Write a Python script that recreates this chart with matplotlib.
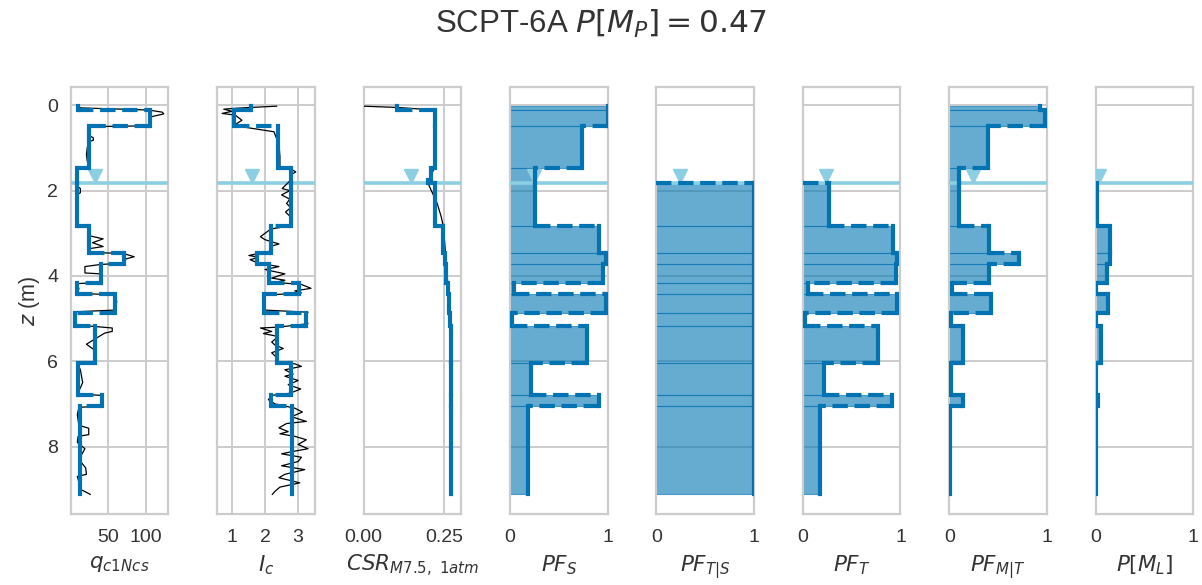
import numpy as np
import matplotlib
matplotlib.use('Agg')
import matplotlib.pyplot as plt

nan = np.nan

# layer boundaries (m) shared by every panel except CSR
Z_EDGES = [0.02, 0.12, 0.48, 1.48, 1.82, 2.83, 3.47, 3.72, 4.17, 4.42, 4.86, 5.17, 6.03, 6.78, 7.06, 9.12]
CSR_EDGES = [0.02, 0.12, 0.48, 1.48, 1.76, 1.82, 2.83, 3.47, 3.72, 4.17, 4.42, 4.86, 5.17, 6.03, 6.78, 7.06, 9.12]
WATER_Z = 1.82

# layer representative values
QC1NCS = [11, 106, 25, 10, 10, 26, 71, 41, 10, 60, 7, 33, 11, 43, 13]
IC = [1.56, 1.07, 2.40, 2.77, 2.77, 2.17, 1.77, 2.12, 3.03, 1.98, 3.24, 2.37, 2.78, 2.17, 2.83]
CSR = [0.105, 0.222, 0.222, 0.209, 0.201, 0.222, 0.247, 0.252, 0.256, 0.260, 0.264, 0.267, 0.270, 0.272, 0.272, 0.271]
PF_S = [1.0, 1.0, 0.74, 0.26, 0.26, 0.91, 0.985, 0.95, 0.045, 0.98, 0.02, 0.79, 0.22, 0.91, 0.18]
PF_TS = [nan, nan, nan, nan, 1, 1, 1, 1, 1, 1, 1, 1, 1, 1, 1]
PF_T = [nan, nan, nan, nan, 0.27, 0.925, 0.965, 0.95, 0.05, 0.96, 0.02, 0.765, 0.22, 0.91, 0.17]
PF_MT = [0.925, 0.976, 0.40, 0.10, 0.10, 0.41, 0.71, 0.41, 0.03, 0.43, 0.02, 0.14, 0.02, 0.14, 0.01]
P_ML = [nan, nan, nan, nan, 0.008, 0.145, 0.148, 0.11, 0.005, 0.127, 0.004, 0.048, 0.002, 0.022, 0.001]

# raw CPT traces (depth, value)
Q_TRACE = [(0.02, 11), (0.06, 14), (0.11, 104), (0.16, 122), (0.20, 124), (0.27, 107), (0.35, 106),
           (0.45, 105), (0.48, 104), (0.50, 26), (0.60, 24), (0.72, 27), (0.76, 31), (0.82, 31),
           (0.85, 25), (1.00, 23), (1.15, 22), (1.30, 23), (1.40, 26), (1.47, 25), (1.50, 10),
           (1.60, 9), (1.90, 10), (1.95, 14), (2.05, 14), (2.10, 9), (2.40, 9), (2.70, 10),
           (2.82, 10), (2.84, 25), (2.95, 26), (3.05, 24), (3.13, 44), (3.22, 30), (3.31, 44),
           (3.36, 26), (3.45, 26), (3.47, 70), (3.55, 85), (3.60, 74), (3.70, 72), (3.73, 41),
           (3.78, 20), (3.93, 20), (3.95, 40), (4.10, 42), (4.15, 40), (4.18, 10), (4.30, 12),
           (4.41, 10), (4.44, 58), (4.60, 62), (4.80, 59), (4.84, 8), (5.00, 7), (5.14, 8),
           (5.18, 30), (5.22, 56), (5.30, 56), (5.34, 46), (5.60, 22), (5.73, 32), (5.90, 33),
           (6.02, 33), (6.05, 10), (6.20, 14), (6.50, 17), (6.70, 12), (6.77, 12), (6.80, 42),
           (6.95, 43), (7.05, 42), (7.08, 12), (7.25, 10), (7.50, 12), (7.57, 25), (7.72, 25),
           (7.76, 11), (7.90, 10), (8.05, 20), (8.30, 12), (8.50, 21), (8.65, 22), (8.70, 10),
           (8.90, 13), (9.00, 14), (9.12, 27)]

IC_TRACE = [(0.02, 2.35), (0.05, 1.55), (0.07, 1.10), (0.09, 0.75), (0.14, 1.00), (0.19, 0.70),
            (0.23, 1.10), (0.35, 1.30), (0.45, 1.10), (0.51, 1.36), (0.62, 2.27), (0.74, 2.33),
            (0.90, 2.42), (1.20, 2.45), (1.46, 2.45), (1.50, 2.80), (1.56, 2.93), (1.62, 2.80),
            (1.75, 2.78), (1.95, 2.52), (2.00, 2.75), (2.10, 2.50), (2.20, 2.75), (2.30, 2.65),
            (2.40, 2.78), (2.50, 2.62), (2.60, 2.75), (2.75, 2.75), (2.82, 2.80), (2.90, 2.17),
            (3.00, 2.00), (3.08, 1.86), (3.15, 2.00), (3.25, 2.42), (3.30, 2.20), (3.42, 2.15),
            (3.48, 1.75), (3.52, 1.51), (3.56, 1.80), (3.62, 1.55), (3.70, 1.80), (3.78, 2.42),
            (3.85, 2.00), (3.95, 2.60), (4.05, 2.20), (4.10, 2.60), (4.15, 2.30), (4.20, 3.10),
            (4.29, 3.39), (4.35, 2.90), (4.40, 3.10), (4.45, 2.00), (4.60, 1.95), (4.80, 2.00),
            (4.85, 3.30), (5.00, 3.20), (5.12, 3.30), (5.20, 2.40), (5.22, 1.86), (5.30, 2.20),
            (5.35, 1.95), (5.42, 2.40), (5.55, 2.20), (5.62, 2.30), (5.70, 2.55), (5.80, 2.20),
            (5.95, 2.40), (6.02, 2.35), (6.06, 2.90), (6.12, 3.10), (6.20, 2.60), (6.30, 2.85),
            (6.35, 2.60), (6.45, 3.00), (6.55, 2.70), (6.65, 3.08), (6.75, 2.75), (6.80, 2.20),
            (6.90, 2.10), (7.00, 2.30), (7.10, 2.90), (7.19, 3.13), (7.30, 2.80), (7.41, 3.25),
            (7.46, 2.65), (7.56, 2.42), (7.65, 2.70), (7.70, 2.45), (7.76, 2.90), (7.84, 3.25),
            (7.95, 3.00), (8.05, 3.30), (8.12, 2.80), (8.17, 2.50), (8.25, 3.10), (8.35, 3.00),
            (8.45, 2.50), (8.54, 3.20), (8.65, 2.60), (8.73, 2.42), (8.85, 3.05), (8.95, 2.45),
            (9.05, 2.30), (9.12, 2.22)]

CSR_TRACE = [(0.02, 0.0), (0.05, 0.105), (0.10, 0.20), (0.15, 0.222), (0.50, 0.222), (1.00, 0.221),
             (1.48, 0.219), (1.60, 0.211), (1.76, 0.203), (1.82, 0.199), (2.00, 0.210), (2.30, 0.228),
             (2.60, 0.240), (2.83, 0.247), (3.20, 0.251), (3.60, 0.255), (4.00, 0.259), (4.50, 0.264),
             (5.00, 0.268), (5.50, 0.270), (6.00, 0.272), (6.50, 0.273), (7.00, 0.273), (7.50, 0.2725),
             (8.00, 0.272), (8.50, 0.271), (9.12, 0.270)]

XLABELS = [r'$q_{c1Ncs}$', r'$I_c$', r'$CSR_{M7.5,\ 1atm}$', r'$PF_S$',
           r'$PF_{T|S}$', r'$PF_T$', r'$PF_{M|T}$', r'$P[M_L]$']
XTICKS = [[50, 100], [1, 2, 3], [0.0, 0.25], [0, 1], [0, 1], [0, 1], [0, 1], [0, 1]]
XTICKLABELS = [['50', '100'], ['1', '2', '3'], ['0.00', '0.25'], ['0', '1'], ['0', '1'],
               ['0', '1'], ['0', '1'], ['0', '1']]
XLIMS = [(1.2, 129.8), (0.55, 3.5), (0.0, 0.302), (0, 1), (0, 1), (0, 1), (0, 1), (0, 1)]
WATER_MARK_X = [33, 1.61, 0.147, 0.25, 0.24, 0.24, 0.24, 0.035]

BLUE = '#0173b2'
WATER = '#8dcfe2'
GRID = '#cccccc'

plt.rcParams.update({
    'font.family': ['Liberation Sans', 'DejaVu Sans'],
    'mathtext.fontset': 'dejavusans',
    'axes.edgecolor': GRID,
    'axes.linewidth': 1.6,
    'grid.color': GRID,
    'grid.linewidth': 1.4,
    'xtick.color': '#333333',
    'ytick.color': '#333333',
    'axes.labelcolor': '#333333',
})


def draw_layers(ax, edges, values, fill=False):
    vals = np.asarray(values, dtype=float)
    tops, bots = edges[:-1], edges[1:]
    for t, b, v in zip(tops, bots, vals):
        if np.isnan(v):
            continue
        if fill:
            ax.fill_betweenx([t, b], 0, v, facecolor=BLUE, edgecolor=BLUE,
                             alpha=0.6, lw=0.8, zorder=2)
        ax.plot([v, v], [t, b], color=BLUE, lw=3, solid_capstyle='projecting', zorder=5)
    # dashed connectors between consecutive layers
    for i in range(1, len(vals)):
        if np.isnan(vals[i]):
            continue
        prev = 0.0 if np.isnan(vals[i - 1]) else vals[i - 1]
        ax.plot([prev, vals[i]], [edges[i], edges[i]], color=BLUE, lw=3, ls='--', zorder=5)


fig, axes = plt.subplots(1, 8, figsize=(12.02, 5.85), dpi=100, sharey=True)
fig.subplots_adjust(left=0.0588, right=0.9928, bottom=0.1214, top=0.8513, wspace=0.502)

for i, ax in enumerate(axes):
    ax.set_facecolor('white')
    ax.grid(True, zorder=0)
    ax.set_axisbelow(True)
    for sp in ax.spines.values():
        sp.set_visible(True)
        sp.set_color(GRID)
    ax.axhline(WATER_Z, color=WATER, lw=2.6, zorder=3)
    ax.plot(WATER_MARK_X[i], WATER_Z - 0.16, marker='v', ms=10, color=WATER,
            ls='none', zorder=3)
    ax.set_xlim(*XLIMS[i])
    ax.set_xticks(XTICKS[i])
    ax.set_xticklabels(XTICKLABELS[i])
    ax.set_xlabel(XLABELS[i], fontsize=15.5, labelpad=5)
    ax.tick_params(axis='both', length=0, labelsize=14)
    ax.tick_params(axis='x', pad=11)
    ax.tick_params(axis='y', pad=9)

# raw traces
for ax, trace in zip(axes[:3], [Q_TRACE, IC_TRACE, CSR_TRACE]):
    tz, tv = np.array(trace).T
    ax.plot(tv, tz, color='black', lw=0.9, zorder=4)

draw_layers(axes[0], Z_EDGES, QC1NCS)
draw_layers(axes[1], Z_EDGES, IC)
draw_layers(axes[2], CSR_EDGES, CSR)
draw_layers(axes[3], Z_EDGES, PF_S, fill=True)
draw_layers(axes[4], Z_EDGES, PF_TS, fill=True)
draw_layers(axes[5], Z_EDGES, PF_T, fill=True)
draw_layers(axes[6], Z_EDGES, PF_MT, fill=True)
draw_layers(axes[7], Z_EDGES, P_ML, fill=True)

axes[0].set_ylim(9.58, -0.43)
axes[0].set_yticks([0, 2, 4, 6, 8])
axes[0].set_ylabel(r'$z$ (m)', fontsize=15.5)

fig.text(0.5, 1 - 24 / 585, r'SCPT-6A $P[M_P] = 0.47$', ha='center', va='center',
         fontsize=22.5, color='#333333')

fig.savefig('out.png', dpi=100)
